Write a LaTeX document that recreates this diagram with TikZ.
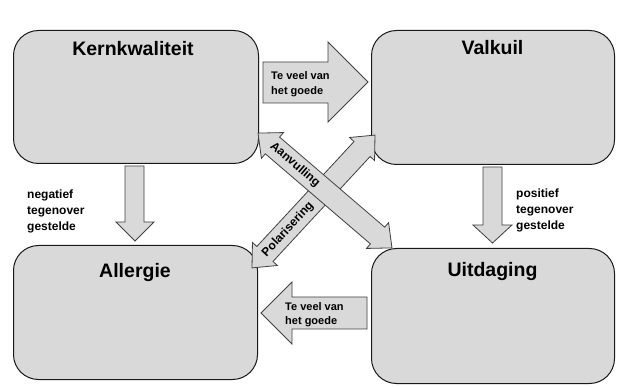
\documentclass[tikz,border=0pt]{standalone}
\usepackage{fontspec}
\setmainfont{Liberation Sans}
\definecolor{boxgray}{HTML}{D9D9D9}
\definecolor{edgegray}{HTML}{404040}
\begin{document}
\begin{tikzpicture}[x=1pt,y=-1pt,
  box/.style={draw=black!90, line width=1pt, fill=boxgray, rounded corners=25pt, inner sep=0pt, anchor=north west},
  blockarrow/.style={draw=edgegray, line width=0.8pt, fill=boxgray, line join=miter},
  title/.style={font=\fontsize{19.5}{23}\selectfont\bfseries, inner sep=0pt, anchor=base},
  lbl/.style={font=\fontsize{11}{14.5}\selectfont\bfseries, align=left, inner sep=0pt},
  diag/.style={font=\fontsize{12}{14}\selectfont\bfseries, inner sep=0pt},
  side/.style={font=\fontsize{12}{16}\selectfont\bfseries, align=left, inner sep=0pt, anchor=west}]
\useasboundingbox (0,0) rectangle (640,387);
\fill[white] (0,0) rectangle (640,387);

% boxes
\node[box, minimum width=245pt, minimum height=133pt] (kern) at (13,30) {};
\node[box, minimum width=243pt, minimum height=134pt] (valk) at (371,30) {};
\node[box, minimum width=244pt, minimum height=134pt] (allg) at (13,245) {};
\node[box, minimum width=243pt, minimum height=135pt] (uitd) at (371,248) {};

% titles
\node[title] (tk) at (133,56) {Kernkwaliteit};
\node[title] (tv) at (492.5,55) {Valkuil};
\node[title] (ta) at (135,278) {Allergie};
\node[title] (tu) at (492.5,277) {Uitdaging};

% straight block arrows
\draw[blockarrow] (263,62) -- (328,62) -- (328,42) -- (368,82) -- (328,122) -- (328,103) -- (263,103) -- cycle;
\draw[blockarrow] (367,297) -- (292,297) -- (292,282) -- (261,313) -- (292,344) -- (292,329) -- (367,329) -- cycle;
\draw[blockarrow] (125,166) -- (144,166) -- (144,222) -- (154,222) -- (135,241) -- (116,222) -- (125,222) -- cycle;
\draw[blockarrow] (483,167) -- (502,167) -- (502,225) -- (512,225) -- (492.5,243) -- (473,225) -- (483,225) -- cycle;

% diagonal double arrows
\begin{scope}[shift={(313.5,201.5)}, rotate=47.2]
  \draw[blockarrow] (-90.5,0) -- (-71.5,17) -- (-71.5,11) -- (71.5,11) -- (71.5,17) -- (90.5,0)
     -- (71.5,-17) -- (71.5,-11) -- (-71.5,-11) -- (-71.5,-17) -- cycle;
\end{scope}
\begin{scope}[shift={(325,190.5)}, rotate=-40.6]
  \draw[blockarrow] (-88.2,0) -- (-69.2,17) -- (-69.2,11) -- (69.2,11) -- (69.2,17) -- (88.2,0)
     -- (69.2,-17) -- (69.2,-11) -- (-69.2,-11) -- (-69.2,-17) -- cycle;
\end{scope}

% arrow labels
\node[lbl, anchor=west] (tv1) at (271,84) {Te veel van\\het goede};
\node[lbl, anchor=west] (tv2) at (285,314.5) {Te veel van\\het goede};
\node[diag, rotate=-40.6] (aan) at (295,164.8) {Aanvulling};
\node[diag, rotate=47.2] (pol) at (288,229.5) {Polarisering};

% side labels
\node[side] (neg) at (27,211) {negatief\\tegenover\\gestelde};
\node[side] (pos) at (516,210) {positief\\tegenover\\gestelde};
\end{tikzpicture}
\end{document}
